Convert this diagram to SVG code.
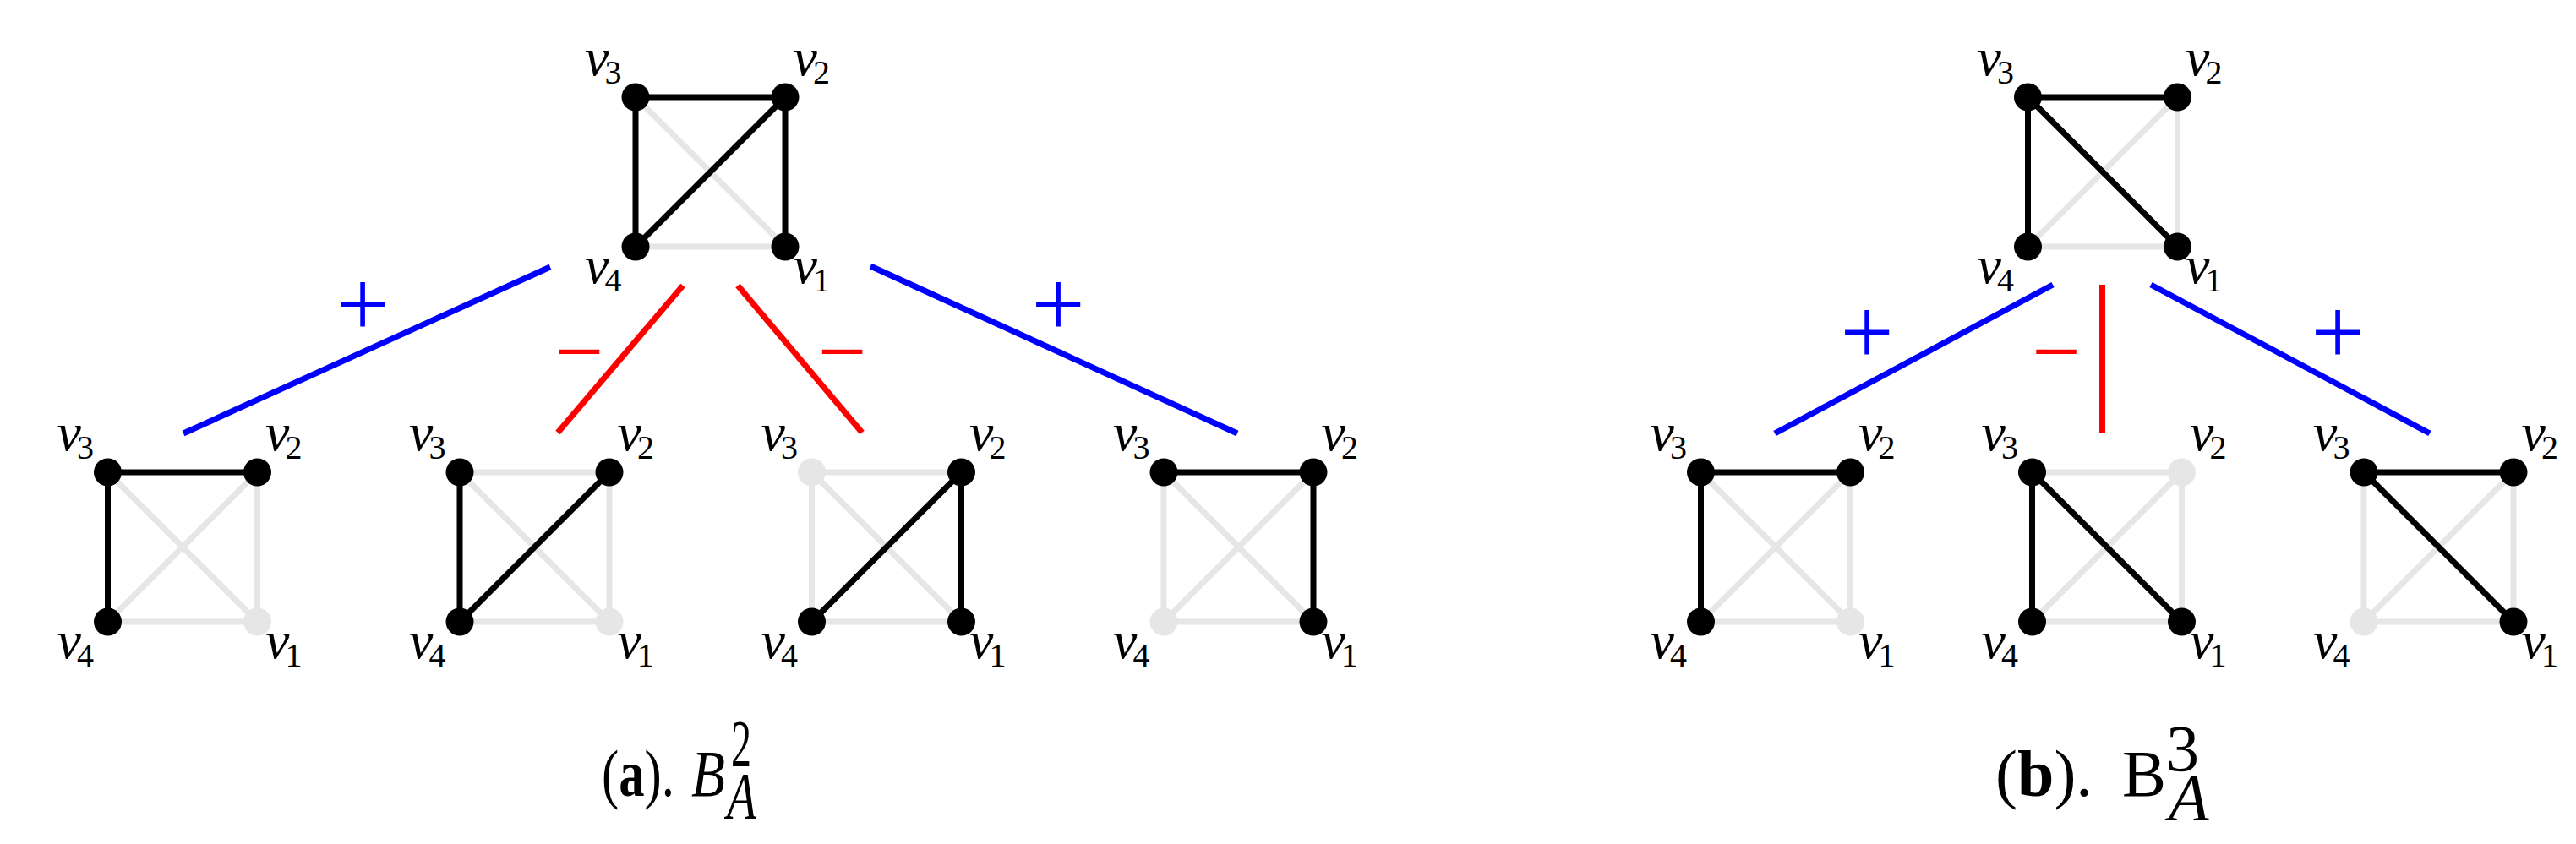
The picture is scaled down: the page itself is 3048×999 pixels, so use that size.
<svg xmlns="http://www.w3.org/2000/svg" width="3048" height="999" viewBox="0 0 3048 999">
<defs>
<style>
.bg{fill:#ffffff}
.eg{stroke:#e6e6e6;stroke-width:7;stroke-linecap:butt}
.ek{stroke:#000000;stroke-width:7;stroke-linecap:butt}
.nk{fill:#000000}
.ng{fill:#e6e6e6}
.l{font-family:"Liberation Serif",serif;font-style:italic;font-size:64px;fill:#000}
.s{font-style:normal;font-size:40px}
.cb{stroke:#0000ff;stroke-width:7}
.cr{stroke:#ff0000;stroke-width:7}
.plus{font-family:"Liberation Serif",serif;font-size:112px;fill:#0000ff;text-anchor:middle}
.minus{font-family:"Liberation Serif",serif;font-size:102px;fill:#ff0000;text-anchor:middle}
.cap{font-family:"Liberation Serif",serif;font-size:78px;fill:#000}
</style>
</defs>
<rect class="bg" x="0" y="0" width="3048" height="999"/>

<g id="connectors">
<line class="cb" x1="217" y1="513" x2="651" y2="316"/>
<line class="cr" x1="808" y1="338" x2="660" y2="512"/>
<line class="cr" x1="873" y1="338" x2="1020" y2="512"/>
<line class="cb" x1="1030" y1="315" x2="1464" y2="513"/>
<line class="cb" x1="2429" y1="337" x2="2100" y2="513"/>
<line class="cr" x1="2487.5" y1="337" x2="2487.5" y2="512"/>
<line class="cb" x1="2545" y1="337" x2="2875" y2="513"/>
<text class="plus" x="429" y="398">+</text>
<text class="plus" x="1252" y="398">+</text>
<text class="minus" x="685.5" y="450">−</text>
<text class="minus" x="996.5" y="450">−</text>
<text class="plus" x="2209" y="431">+</text>
<text class="plus" x="2766" y="431">+</text>
<text class="minus" x="2433" y="450">−</text>
</g>

<!-- (a) top graph -->
<g id="a-top" transform="translate(752,115)">
<line class="eg" x1="0" y1="0" x2="177" y2="177"/>
<line class="eg" x1="0" y1="177" x2="177" y2="177"/>
<line class="ek" x1="0" y1="0" x2="177" y2="0"/>
<line class="ek" x1="0" y1="0" x2="0" y2="177"/>
<line class="ek" x1="177" y1="0" x2="177" y2="177"/>
<line class="ek" x1="0" y1="177" x2="177" y2="0"/>
<circle class="nk" cx="0" cy="0" r="16.5"/>
<circle class="nk" cx="177" cy="0" r="16.5"/>
<circle class="nk" cx="0" cy="177" r="16.5"/>
<circle class="nk" cx="177" cy="177" r="16.5"/>
<text class="l" x="-60" y="-26">v<tspan class="s" dx="-5" dy="9.5">3</tspan></text>
<text class="l" x="186.5" y="-26">v<tspan class="s" dx="-5" dy="9.5">2</tspan></text>
<text class="l" x="-60" y="220">v<tspan class="s" dx="-5" dy="10">4</tspan></text>
<text class="l" x="186.5" y="220">v<tspan class="s" dx="-5" dy="10">1</tspan></text>
</g>

<!-- (a) bottom 1 -->
<g id="a-1" transform="translate(127.5,559)">
<line class="eg" x1="0" y1="0" x2="177" y2="177"/>
<line class="eg" x1="0" y1="177" x2="177" y2="0"/>
<line class="eg" x1="177" y1="0" x2="177" y2="177"/>
<line class="eg" x1="0" y1="177" x2="177" y2="177"/>
<line class="ek" x1="0" y1="0" x2="177" y2="0"/>
<line class="ek" x1="0" y1="0" x2="0" y2="177"/>
<circle class="nk" cx="0" cy="0" r="16.5"/>
<circle class="nk" cx="177" cy="0" r="16.5"/>
<circle class="nk" cx="0" cy="177" r="16.5"/>
<circle class="ng" cx="177" cy="177" r="16.5"/>
<text class="l" x="-60" y="-26">v<tspan class="s" dx="-5" dy="9.5">3</tspan></text>
<text class="l" x="186.5" y="-26">v<tspan class="s" dx="-5" dy="9.5">2</tspan></text>
<text class="l" x="-60" y="220">v<tspan class="s" dx="-5" dy="10">4</tspan></text>
<text class="l" x="186.5" y="220">v<tspan class="s" dx="-5" dy="10">1</tspan></text>
</g>

<!-- (a) bottom 2 -->
<g id="a-2" transform="translate(544,559)">
<line class="eg" x1="0" y1="0" x2="177" y2="0"/>
<line class="eg" x1="0" y1="0" x2="177" y2="177"/>
<line class="eg" x1="177" y1="0" x2="177" y2="177"/>
<line class="eg" x1="0" y1="177" x2="177" y2="177"/>
<line class="ek" x1="0" y1="0" x2="0" y2="177"/>
<line class="ek" x1="0" y1="177" x2="177" y2="0"/>
<circle class="nk" cx="0" cy="0" r="16.5"/>
<circle class="nk" cx="177" cy="0" r="16.5"/>
<circle class="nk" cx="0" cy="177" r="16.5"/>
<circle class="ng" cx="177" cy="177" r="16.5"/>
<text class="l" x="-60" y="-26">v<tspan class="s" dx="-5" dy="9.5">3</tspan></text>
<text class="l" x="186.5" y="-26">v<tspan class="s" dx="-5" dy="9.5">2</tspan></text>
<text class="l" x="-60" y="220">v<tspan class="s" dx="-5" dy="10">4</tspan></text>
<text class="l" x="186.5" y="220">v<tspan class="s" dx="-5" dy="10">1</tspan></text>
</g>

<!-- (a) bottom 3 -->
<g id="a-3" transform="translate(960.5,559)">
<line class="eg" x1="0" y1="0" x2="177" y2="0"/>
<line class="eg" x1="0" y1="0" x2="0" y2="177"/>
<line class="eg" x1="0" y1="0" x2="177" y2="177"/>
<line class="eg" x1="0" y1="177" x2="177" y2="177"/>
<line class="ek" x1="0" y1="177" x2="177" y2="0"/>
<line class="ek" x1="177" y1="0" x2="177" y2="177"/>
<circle class="ng" cx="0" cy="0" r="16.5"/>
<circle class="nk" cx="177" cy="0" r="16.5"/>
<circle class="nk" cx="0" cy="177" r="16.5"/>
<circle class="nk" cx="177" cy="177" r="16.5"/>
<text class="l" x="-60" y="-26">v<tspan class="s" dx="-5" dy="9.5">3</tspan></text>
<text class="l" x="186.5" y="-26">v<tspan class="s" dx="-5" dy="9.5">2</tspan></text>
<text class="l" x="-60" y="220">v<tspan class="s" dx="-5" dy="10">4</tspan></text>
<text class="l" x="186.5" y="220">v<tspan class="s" dx="-5" dy="10">1</tspan></text>
</g>

<!-- (a) bottom 4 -->
<g id="a-4" transform="translate(1377,559)">
<line class="eg" x1="0" y1="0" x2="0" y2="177"/>
<line class="eg" x1="0" y1="0" x2="177" y2="177"/>
<line class="eg" x1="0" y1="177" x2="177" y2="0"/>
<line class="eg" x1="0" y1="177" x2="177" y2="177"/>
<line class="ek" x1="0" y1="0" x2="177" y2="0"/>
<line class="ek" x1="177" y1="0" x2="177" y2="177"/>
<circle class="nk" cx="0" cy="0" r="16.5"/>
<circle class="nk" cx="177" cy="0" r="16.5"/>
<circle class="ng" cx="0" cy="177" r="16.5"/>
<circle class="nk" cx="177" cy="177" r="16.5"/>
<text class="l" x="-60" y="-26">v<tspan class="s" dx="-5" dy="9.5">3</tspan></text>
<text class="l" x="186.5" y="-26">v<tspan class="s" dx="-5" dy="9.5">2</tspan></text>
<text class="l" x="-60" y="220">v<tspan class="s" dx="-5" dy="10">4</tspan></text>
<text class="l" x="186.5" y="220">v<tspan class="s" dx="-5" dy="10">1</tspan></text>
</g>

<!-- (b) top graph -->
<g id="b-top" transform="translate(2399.5,115)">
<line class="eg" x1="0" y1="177" x2="177" y2="0"/>
<line class="eg" x1="177" y1="0" x2="177" y2="177"/>
<line class="eg" x1="0" y1="177" x2="177" y2="177"/>
<line class="ek" x1="0" y1="0" x2="177" y2="0"/>
<line class="ek" x1="0" y1="0" x2="0" y2="177"/>
<line class="ek" x1="0" y1="0" x2="177" y2="177"/>
<circle class="nk" cx="0" cy="0" r="16.5"/>
<circle class="nk" cx="177" cy="0" r="16.5"/>
<circle class="nk" cx="0" cy="177" r="16.5"/>
<circle class="nk" cx="177" cy="177" r="16.5"/>
<text class="l" x="-60" y="-26">v<tspan class="s" dx="-5" dy="9.5">3</tspan></text>
<text class="l" x="186.5" y="-26">v<tspan class="s" dx="-5" dy="9.5">2</tspan></text>
<text class="l" x="-60" y="220">v<tspan class="s" dx="-5" dy="10">4</tspan></text>
<text class="l" x="186.5" y="220">v<tspan class="s" dx="-5" dy="10">1</tspan></text>
</g>

<!-- (b) bottom 1 -->
<g id="b-1" transform="translate(2012.5,559)">
<line class="eg" x1="0" y1="0" x2="177" y2="177"/>
<line class="eg" x1="0" y1="177" x2="177" y2="0"/>
<line class="eg" x1="177" y1="0" x2="177" y2="177"/>
<line class="eg" x1="0" y1="177" x2="177" y2="177"/>
<line class="ek" x1="0" y1="0" x2="177" y2="0"/>
<line class="ek" x1="0" y1="0" x2="0" y2="177"/>
<circle class="nk" cx="0" cy="0" r="16.5"/>
<circle class="nk" cx="177" cy="0" r="16.5"/>
<circle class="nk" cx="0" cy="177" r="16.5"/>
<circle class="ng" cx="177" cy="177" r="16.5"/>
<text class="l" x="-60" y="-26">v<tspan class="s" dx="-5" dy="9.5">3</tspan></text>
<text class="l" x="186.5" y="-26">v<tspan class="s" dx="-5" dy="9.5">2</tspan></text>
<text class="l" x="-60" y="220">v<tspan class="s" dx="-5" dy="10">4</tspan></text>
<text class="l" x="186.5" y="220">v<tspan class="s" dx="-5" dy="10">1</tspan></text>
</g>

<!-- (b) bottom 2 -->
<g id="b-2" transform="translate(2404.5,559)">
<line class="eg" x1="0" y1="0" x2="177" y2="0"/>
<line class="eg" x1="0" y1="177" x2="177" y2="0"/>
<line class="eg" x1="177" y1="0" x2="177" y2="177"/>
<line class="eg" x1="0" y1="177" x2="177" y2="177"/>
<line class="ek" x1="0" y1="0" x2="0" y2="177"/>
<line class="ek" x1="0" y1="0" x2="177" y2="177"/>
<circle class="nk" cx="0" cy="0" r="16.5"/>
<circle class="ng" cx="177" cy="0" r="16.5"/>
<circle class="nk" cx="0" cy="177" r="16.5"/>
<circle class="nk" cx="177" cy="177" r="16.5"/>
<text class="l" x="-60" y="-26">v<tspan class="s" dx="-5" dy="9.5">3</tspan></text>
<text class="l" x="186.5" y="-26">v<tspan class="s" dx="-5" dy="9.5">2</tspan></text>
<text class="l" x="-60" y="220">v<tspan class="s" dx="-5" dy="10">4</tspan></text>
<text class="l" x="186.5" y="220">v<tspan class="s" dx="-5" dy="10">1</tspan></text>
</g>

<!-- (b) bottom 3 -->
<g id="b-3" transform="translate(2797,559)">
<line class="eg" x1="0" y1="0" x2="0" y2="177"/>
<line class="eg" x1="0" y1="177" x2="177" y2="0"/>
<line class="eg" x1="177" y1="0" x2="177" y2="177"/>
<line class="eg" x1="0" y1="177" x2="177" y2="177"/>
<line class="ek" x1="0" y1="0" x2="177" y2="0"/>
<line class="ek" x1="0" y1="0" x2="177" y2="177"/>
<circle class="nk" cx="0" cy="0" r="16.5"/>
<circle class="nk" cx="177" cy="0" r="16.5"/>
<circle class="ng" cx="0" cy="177" r="16.5"/>
<circle class="nk" cx="177" cy="177" r="16.5"/>
<text class="l" x="-60" y="-26">v<tspan class="s" dx="-5" dy="9.5">3</tspan></text>
<text class="l" x="186.5" y="-26">v<tspan class="s" dx="-5" dy="9.5">2</tspan></text>
<text class="l" x="-60" y="220">v<tspan class="s" dx="-5" dy="10">4</tspan></text>
<text class="l" x="186.5" y="220">v<tspan class="s" dx="-5" dy="10">1</tspan></text>
</g>

<!-- captions -->
<g id="caption-a">
<text class="cap" x="712" y="942" textLength="86" lengthAdjust="spacingAndGlyphs">(<tspan font-weight="bold">a</tspan>).</text>
<text class="cap" x="818" y="942" font-style="italic" font-size="80" textLength="40" lengthAdjust="spacingAndGlyphs">B</text>
<text class="cap" x="865" y="906" font-size="58" textLength="24" lengthAdjust="spacingAndGlyphs">2</text>
<text class="cap" x="860" y="968" font-style="italic" font-size="60" textLength="35" lengthAdjust="spacingAndGlyphs">A</text>
</g>
<g id="caption-b">
<text class="cap" x="2361" y="942">(<tspan font-weight="bold">b</tspan>).</text>
<text class="cap" x="2511" y="942" font-size="80">B</text>
<text class="cap" x="2563" y="912" font-size="60">3</text>
<text class="cap" x="2566" y="970" font-style="italic" font-size="60">A</text>
</g>
</svg>
